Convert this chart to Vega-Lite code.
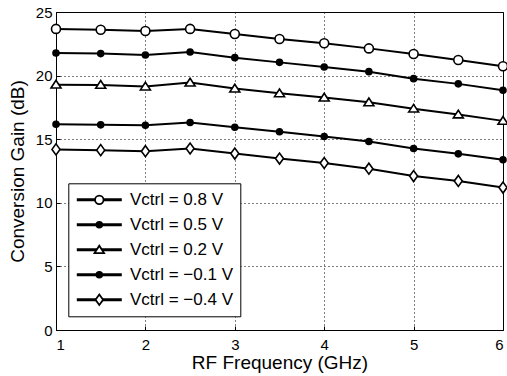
{
  "$schema": "https://vega.github.io/schema/vega-lite/v6.json",
  "width": 447,
  "height": 318,
  "autosize": {"type": "none"},
  "padding": {"left": 56, "top": 12, "right": 4, "bottom": 46},
  "background": "white",
  "config": {
    "font": "Liberation Sans",
    "view": {"stroke": "black", "strokeWidth": 1},
    "axis": {
      "domainColor": "black",
      "domainWidth": 1,
      "tickColor": "black",
      "tickSize": -4,
      "labelColor": "black",
      "labelFontSize": 15,
      "labelFont": "Liberation Sans",
      "titleFont": "Liberation Sans",
      "titleFontSize": 19,
      "titleFontWeight": "normal",
      "titleColor": "black",
      "grid": true,
      "gridColor": "black",
      "gridDash": [1, 3],
      "gridWidth": 1,
      "gridOpacity": 1
    },
    "legend": {
      "labelFont": "Liberation Sans",
      "labelFontSize": 17,
      "labelColor": "black",
      "padding": 7,
      "rowPadding": 6,
      "clipHeight": 19
    }
  },
  "data": {
    "values": [
      {"f": 1, "g": 23.67, "s": "0.8"}, {"f": 1.5, "g": 23.61, "s": "0.8"}, {"f": 2, "g": 23.51, "s": "0.8"}, {"f": 2.5, "g": 23.67, "s": "0.8"}, {"f": 3, "g": 23.27, "s": "0.8"}, {"f": 3.5, "g": 22.88, "s": "0.8"}, {"f": 4, "g": 22.54, "s": "0.8"}, {"f": 4.5, "g": 22.14, "s": "0.8"}, {"f": 5, "g": 21.7, "s": "0.8"}, {"f": 5.5, "g": 21.23, "s": "0.8"}, {"f": 6, "g": 20.73, "s": "0.8"},
      {"f": 1, "g": 21.78, "s": "0.5"}, {"f": 1.5, "g": 21.73, "s": "0.5"}, {"f": 2, "g": 21.62, "s": "0.5"}, {"f": 2.5, "g": 21.86, "s": "0.5"}, {"f": 3, "g": 21.41, "s": "0.5"}, {"f": 3.5, "g": 21.04, "s": "0.5"}, {"f": 4, "g": 20.68, "s": "0.5"}, {"f": 4.5, "g": 20.31, "s": "0.5"}, {"f": 5, "g": 19.76, "s": "0.5"}, {"f": 5.5, "g": 19.35, "s": "0.5"}, {"f": 6, "g": 18.85, "s": "0.5"},
      {"f": 1, "g": 19.29, "s": "0.2"}, {"f": 1.5, "g": 19.27, "s": "0.2"}, {"f": 2, "g": 19.14, "s": "0.2"}, {"f": 2.5, "g": 19.45, "s": "0.2"}, {"f": 3, "g": 18.98, "s": "0.2"}, {"f": 3.5, "g": 18.61, "s": "0.2"}, {"f": 4, "g": 18.27, "s": "0.2"}, {"f": 4.5, "g": 17.9, "s": "0.2"}, {"f": 5, "g": 17.4, "s": "0.2"}, {"f": 5.5, "g": 16.94, "s": "0.2"}, {"f": 6, "g": 16.44, "s": "0.2"},
      {"f": 1, "g": 16.18, "s": "−0.1"}, {"f": 1.5, "g": 16.13, "s": "−0.1"}, {"f": 2, "g": 16.1, "s": "−0.1"}, {"f": 2.5, "g": 16.31, "s": "−0.1"}, {"f": 3, "g": 15.94, "s": "−0.1"}, {"f": 3.5, "g": 15.58, "s": "−0.1"}, {"f": 4, "g": 15.21, "s": "−0.1"}, {"f": 4.5, "g": 14.82, "s": "−0.1"}, {"f": 5, "g": 14.27, "s": "−0.1"}, {"f": 5.5, "g": 13.85, "s": "−0.1"}, {"f": 6, "g": 13.38, "s": "−0.1"},
      {"f": 1, "g": 14.2, "s": "−0.4"}, {"f": 1.5, "g": 14.14, "s": "−0.4"}, {"f": 2, "g": 14.06, "s": "−0.4"}, {"f": 2.5, "g": 14.27, "s": "−0.4"}, {"f": 3, "g": 13.87, "s": "−0.4"}, {"f": 3.5, "g": 13.48, "s": "−0.4"}, {"f": 4, "g": 13.13, "s": "−0.4"}, {"f": 4.5, "g": 12.68, "s": "−0.4"}, {"f": 5, "g": 12.1, "s": "−0.4"}, {"f": 5.5, "g": 11.72, "s": "−0.4"}, {"f": 6, "g": 11.2, "s": "−0.4"}
    ]
  },
  "encoding": {
    "x": {
      "field": "f",
      "type": "quantitative",
      "title": "RF Frequency (GHz)",
      "scale": {"domain": [1, 6], "nice": false, "zero": false},
      "axis": {"values": [1, 2, 3, 4, 5, 6], "labelPadding": 11, "titlePadding": 1}
    },
    "y": {
      "field": "g",
      "type": "quantitative",
      "title": "Conversion Gain (dB)",
      "scale": {"domain": [0, 25], "nice": false},
      "axis": {"values": [0, 5, 10, 15, 20, 25], "labelPadding": 8, "titlePadding": 8}
    }
  },
  "layer": [
    {
      "mark": {"type": "line", "strokeWidth": 2},
      "encoding": {
        "color": {
          "field": "s",
          "type": "nominal",
          "sort": {"field": "g", "op": "mean", "order": "descending"},
          "scale": {"range": ["black"]},
          "legend": {
            "title": null,
            "orient": "none",
            "legendX": 12.3,
            "legendY": 171.3,
            "symbolType": "stroke",
            "symbolSize": 2025,
            "symbolStrokeWidth": 3,
            "labelOffset": 6.7,
            "strokeColor": "black",
            "fillColor": "white",
            "labelExpr": "'Vctrl = ' + datum.label + ' V'"
          }
        }
      }
    },
    {
      "mark": {"type": "point", "stroke": "black", "strokeWidth": 1.6, "opacity": 1, "size": 100},
      "encoding": {
        "shape": {
          "field": "s",
          "type": "nominal",
          "scale": {
            "domain": ["0.8", "0.5", "0.2", "−0.1", "−0.4"],
            "range": [
              "M-0.9,0A0.9,0.9,0,1,0,0.9,0A0.9,0.9,0,1,0,-0.9,0Z",
              "M-0.6,0A0.6,0.6,0,1,0,0.6,0A0.6,0.6,0,1,0,-0.6,0Z",
              "M-1,0.68L0,-0.86L1,0.68Z",
              "M-0.6,0A0.6,0.6,0,1,0,0.6,0A0.6,0.6,0,1,0,-0.6,0Z",
              "M-0.8,0L0,-1.1L0.8,0L0,1.1Z"
            ]
          },
          "legend": {
            "title": null,
            "orient": "none",
            "legendX": 27.8,
            "legendY": 171.3,
            "symbolSize": 90,
            "symbolStrokeWidth": 1.8,
            "strokeColor": "transparent",
            "fillColor": "transparent",
            "labelExpr": "''"
          }
        },
        "fill": {
          "field": "s",
          "type": "nominal",
          "scale": {
            "domain": ["0.8", "0.5", "0.2", "−0.1", "−0.4"],
            "range": ["white", "black", "white", "black", "white"]
          },
          "legend": null
        }
      }
    }
  ]
}
